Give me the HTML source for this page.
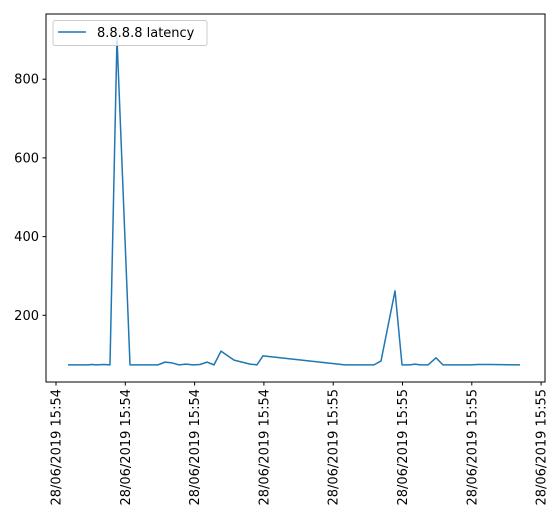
<!DOCTYPE html>
<html><head><meta charset="utf-8"><style>
body{margin:0;background:#fff;font-family:"Liberation Sans","DejaVu Sans",sans-serif}
svg text{font-family:"DejaVu Sans","Liberation Sans",sans-serif;font-size:13px;fill:#000}
</style></head><body>
<svg id="chart" width="557" height="526" xmlns="http://www.w3.org/2000/svg"></svg>
<script>
const times=[1.73,3.46,4.62,5.19,5.77,6.93,7.79,8.80,10.68,14.72,15.73,16.74,17.75,18.76,19.77,20.78,21.79,22.80,23.81,25.69,26.84,27.99,29.00,29.87,41.70,43.87,45.89,46.90,48.92,49.93,51.08,51.80,52.53,53.68,54.83,55.84,57.58,59.74,60.89,62.63,66.96];
const latency=[74,74,74,75,74,75,74,905,74,74,81,79,74,76,74,75,81,74,109,86,81,76,74,97,74,74,74,84,262,74,74,76,74,74,92,74,74,74,75,75,74];
const yTicks=[200,400,600,800];
const xTicks=[0,10,20,30,40,50,60,70];
const xTickLabels=["28/06/2019 15:54","28/06/2019 15:54","28/06/2019 15:54","28/06/2019 15:54","28/06/2019 15:55","28/06/2019 15:55","28/06/2019 15:55","28/06/2019 15:55"];
const NS="http://www.w3.org/2000/svg",svg=document.getElementById('chart');
const L=46,R=545,T=14,B=382;
const x=t=>56+t*6.93;
const y=v=>394-v*78.7/200;
function mk(tag,a){const e=document.createElementNS(NS,tag);for(const k in a)e.setAttribute(k,a[k]);svg.appendChild(e);return e;}
const pts=times.map((t,i)=>x(t)+','+y(latency[i])).join(' ');
const line=mk('polyline',{points:pts,fill:'none',stroke:'#1f77b4','stroke-width':1.5,'stroke-linejoin':'round'});


const frame=mk('rect',{x:L,y:T,width:R-L,height:B-T,fill:'none',stroke:'#000','stroke-width':1});


yTicks.forEach(v=>{const yy=y(v);
 const tk=mk('line',{x1:L-3.5,x2:L,y1:yy,y2:yy,stroke:'#000'});
 
 
 const tx=mk('text',{x:L-7,y:yy+4.5,'text-anchor':'end'});tx.textContent=v;
 
 
});
xTicks.forEach((t,i)=>{const xx=x(t);
 const tk=mk('line',{x1:xx,x2:xx,y1:B,y2:B+3.5,stroke:'#000'});
 
 
 const tx=mk('text',{x:0,y:0,'text-anchor':'end',transform:`translate(${xx+4.5},${B+7}) rotate(-90)`});tx.textContent=xTickLabels[i];
 
 
});
const lg=mk('rect',{x:53,y:20.5,width:154,height:25,rx:2,fill:'#fff','fill-opacity':0.8,stroke:'#ccc'});


const ll=mk('line',{x1:58,x2:86,y1:32,y2:32,stroke:'#1f77b4','stroke-width':1.5});


const lt=mk('text',{x:97,y:37});lt.textContent='8.8.8.8 latency';


</script>
</body></html>
